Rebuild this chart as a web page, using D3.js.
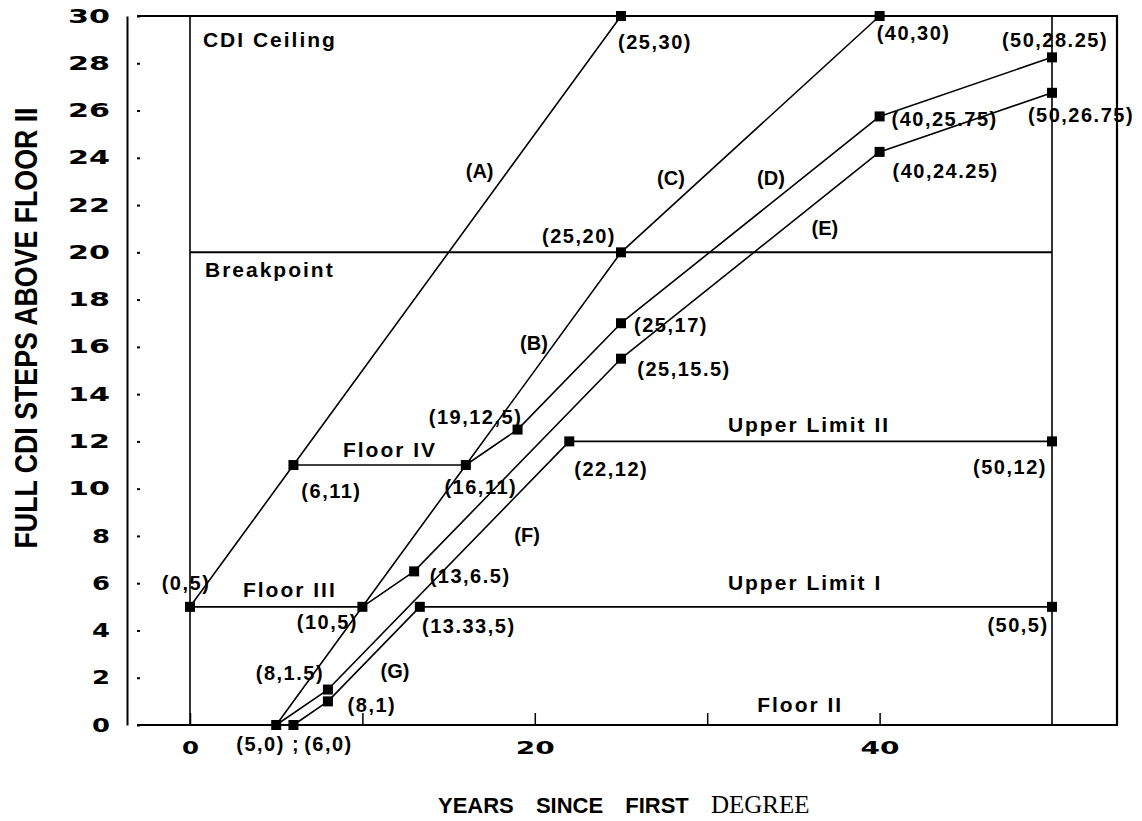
<!DOCTYPE html>
<html>
<head>
<meta charset="utf-8">
<script src="https://cdn.jsdelivr.net/npm/d3@7"></script>
<style>
    body { margin: 0; background: #ffffff; }
    svg { display: block; }
</style>
</head>
<body>
<div id="chart"></div>
<script>
// axis ticks
const xTicks = [0, 10, 20, 30, 40];
const xTickLabels = ["0", "", "20", "", "40"];
const yTicks = [0, 2, 4, 6, 8, 10, 12, 14, 16, 18, 20, 22, 24, 26, 28, 30];

// career paths (years since first degree, full CDI steps above Floor II)
const pathA = [[0, 5], [6, 11], [25, 30]];
const pathB = [[5, 0], [10, 5], [16, 11], [25, 20]];
const pathC = [[25, 20], [40, 30]];
const pathD = [[16, 11], [19, 12.5], [25, 17], [40, 25.75], [50, 28.25]];
const pathE = [[10, 5], [13, 6.5], [25, 15.5], [40, 24.25], [50, 26.75]];
const pathF = [[5, 0], [8, 1.5], [22, 12], [50, 12]];
const pathG = [[6, 0], [8, 1], [13.33, 5], [50, 5]];

// reference lines
const floorIII = [[0, 5], [10, 5]];
const floorIV = [[6, 11], [16, 11]];
const breakpoint = [[0, 20], [50, 20]];
const startLine = [[0, 0], [0, 30]];
const endLine = [[50, 0], [50, 30]];

// marked points and their labels
const points = [[0, 5], [6, 11], [25, 30], [40, 30], [50, 28.25], [40, 25.75], [50, 26.75],
    [40, 24.25], [25, 20], [25, 17], [25, 15.5], [19, 12.5], [16, 11], [22, 12], [50, 12],
    [13, 6.5], [10, 5], [13.33, 5], [50, 5], [8, 1.5], [8, 1], [5, 0], [6, 0]];
const pointLabels = ["(0,5)", "(6,11)", "(25,30)", "(40,30)", "(50,28.25)", "(40,25.75)", "(50,26.75)",
    "(40,24.25)", "(25,20)", "(25,17)", "(25,15.5)", "(19,12,5)", "(16,11)", "(22,12)", "(50,12)",
    "(13,6.5)", "(10,5)", "(13.33,5)", "(50,5)", "(8,1.5)", "(8,1)", "(5,0) ;", "(6,0)"];

// path names and region names
const pathNames = ["(A)", "(B)", "(C)", "(D)", "(E)", "(F)", "(G)"];
const pathNameAt = [[16.8, 23.15], [19.95, 15.87], [27.9, 22.85], [33.7, 22.85], [36.83, 20.74], [19.55, 7.74], [11.89, 1.99]];
const regionNames = ["CDI Ceiling", "Breakpoint", "Floor IV", "Floor III", "Upper Limit II", "Upper Limit I", "Floor II"];
const regionNameAt = [[0.75, 28.67], [0.87, 18.96], [8.87, 11.34], [3.07, 5.42], [31.2, 12.4], [31.2, 5.71], [32.9, 0.55]];

// label offsets in pixels from each point (centre x, baseline y)
const labelOffsets = [[-4, -17], [38, 33], [34, 33], [34, 24], [3, -10], [65, 10], [29, 29],
    [66, 26], [-42, -9], [50, 9], [63, 17], [-42, -6], [15, 29], [42, 35], [-42, 33],
    [56, 12], [-35, 22], [49, 26], [-34, 25], [-38, -10], [44, 11], [-8, 26], [35, 26]];

const width = 1142;
const height = 821;
const frame = { left: 137, right: 1117, top: 16, bottom: 725 };

const svg = d3.select("#chart")
    .append("svg")
    .attr("width", width)
    .attr("height", height);

const x = d3.scaleLinear()
    .domain([0, 50])
    .range([190, 1052]);

const y = d3.scaleLinear()
    .domain([0, 30])
    .range([725, 16]);

const line = d3.line()
    .x(d => x(d[0]))
    .y(d => y(d[1]));

const labelFont = "'Liberation Sans', Arial, sans-serif";

// frame: ceiling on top, right border and x axis line
svg.append("path")
    .attr("d", `M${frame.left},${frame.top}H${frame.right}V${frame.bottom}H${frame.left}`)
    .attr("fill", "none")
    .attr("stroke", "#000")
    .attr("stroke-width", 2.2);

// x axis ticks point upward
const xAxis = svg.append("g")
    .attr("transform", `translate(0, ${frame.bottom})`)
    .call(d3.axisBottom(x)
        .tickValues(xTicks)
        .tickFormat((d, i) => xTickLabels[i])
        .tickSizeInner(-12)
        .tickSizeOuter(0)
        .tickPadding(17));
xAxis.select(".domain").remove();
xAxis.selectAll("line").attr("stroke", "#000").attr("stroke-width", 1.5);
xAxis.selectAll("text")
    .attr("fill", "#000")
    .style("font-family", "'DejaVu Sans', sans-serif")
    .style("font-weight", "bold")
    .style("font-size", "17px")
    .attr("textLength", function () { return this.textContent.length * 17 + (this.textContent.length - 1) * 5; })
    .attr("lengthAdjust", "spacingAndGlyphs");

// y axis with small dot ticks
const yAxis = svg.append("g")
    .attr("transform", "translate(127, 0)")
    .call(d3.axisLeft(y)
        .tickValues(yTicks)
        .tickSize(0)
        .tickPadding(17));
yAxis.select(".domain").attr("stroke", "#000").attr("stroke-width", 2);
yAxis.selectAll(".tick")
    .append("rect")
    .attr("x", 10)
    .attr("y", -1)
    .attr("width", 3)
    .attr("height", 2)
    .attr("fill", "#000");
yAxis.selectAll("text")
    .attr("fill", "#000")
    .style("font-family", "'DejaVu Sans', sans-serif")
    .style("font-weight", "bold")
    .style("font-size", "19px")
    .attr("textLength", function () { return this.textContent.length * 18 + (this.textContent.length - 1) * 6; })
    .attr("lengthAdjust", "spacingAndGlyphs");

// reference lines
[startLine, endLine, breakpoint, floorIII, floorIV].forEach(ref => {
    svg.append("path")
        .attr("d", line(ref))
        .attr("fill", "none")
        .attr("stroke", "#000")
        .attr("stroke-width", ref === breakpoint ? 2 : 1.6);
});

// career paths
[pathA, pathB, pathC, pathD, pathE, pathF, pathG].forEach(p => {
    svg.append("path")
        .attr("d", line(p))
        .attr("fill", "none")
        .attr("stroke", "#000")
        .attr("stroke-width", 1.6)
        .attr("stroke-linejoin", "round");
});

// point markers
svg.selectAll(".marker")
    .data(points)
    .enter().append("rect")
    .attr("class", "marker")
    .attr("x", d => x(d[0]) - 5)
    .attr("y", d => y(d[1]) - 5)
    .attr("width", 10)
    .attr("height", 10)
    .attr("fill", "#000");

// point labels
svg.selectAll(".point-label")
    .data(points)
    .enter().append("text")
    .attr("class", "point-label")
    .attr("x", (d, i) => x(d[0]) + labelOffsets[i][0])
    .attr("y", (d, i) => y(d[1]) + labelOffsets[i][1])
    .attr("text-anchor", "middle")
    .style("font-family", labelFont)
    .style("font-weight", "bold")
    .style("font-size", "20px")
    .style("letter-spacing", "1.5px")
    .attr("fill", "#000")
    .text((d, i) => pointLabels[i]);

// path names
svg.selectAll(".path-name")
    .data(pathNames)
    .enter().append("text")
    .attr("class", "path-name")
    .attr("x", (d, i) => x(pathNameAt[i][0]))
    .attr("y", (d, i) => y(pathNameAt[i][1]))
    .attr("text-anchor", "middle")
    .style("font-family", labelFont)
    .style("font-weight", "bold")
    .style("font-size", "20px")
    .attr("fill", "#000")
    .text(d => d);

// region names
svg.selectAll(".region-name")
    .data(regionNames)
    .enter().append("text")
    .attr("class", "region-name")
    .attr("x", (d, i) => x(regionNameAt[i][0]))
    .attr("y", (d, i) => y(regionNameAt[i][1]))
    .attr("text-anchor", "start")
    .style("font-family", labelFont)
    .style("font-weight", "bold")
    .style("font-size", "21px")
    .style("letter-spacing", "2px")
    .attr("fill", "#000")
    .text(d => d);

// axis titles
const xTitle = svg.append("text")
    .attr("x", 438)
    .attr("y", 813)
    .attr("fill", "#000");
xTitle.append("tspan")
    .style("font-family", labelFont)
    .style("font-weight", "bold")
    .style("font-size", "22px")
    .style("word-spacing", "16px")
    .text("YEARS SINCE FIRST ");
xTitle.append("tspan")
    .style("font-family", "'Liberation Serif', 'Times New Roman', serif")
    .style("font-size", "25px")
    .text("DEGREE");

svg.append("text")
    .attr("transform", "translate(37, 328) rotate(-90)")
    .attr("text-anchor", "middle")
    .style("font-family", labelFont)
    .style("font-weight", "bold")
    .style("font-size", "31px")
    .attr("textLength", 441)
    .attr("lengthAdjust", "spacingAndGlyphs")
    .attr("fill", "#000")
    .text("FULL CDI STEPS ABOVE FLOOR II");
</script>
</body>
</html>
